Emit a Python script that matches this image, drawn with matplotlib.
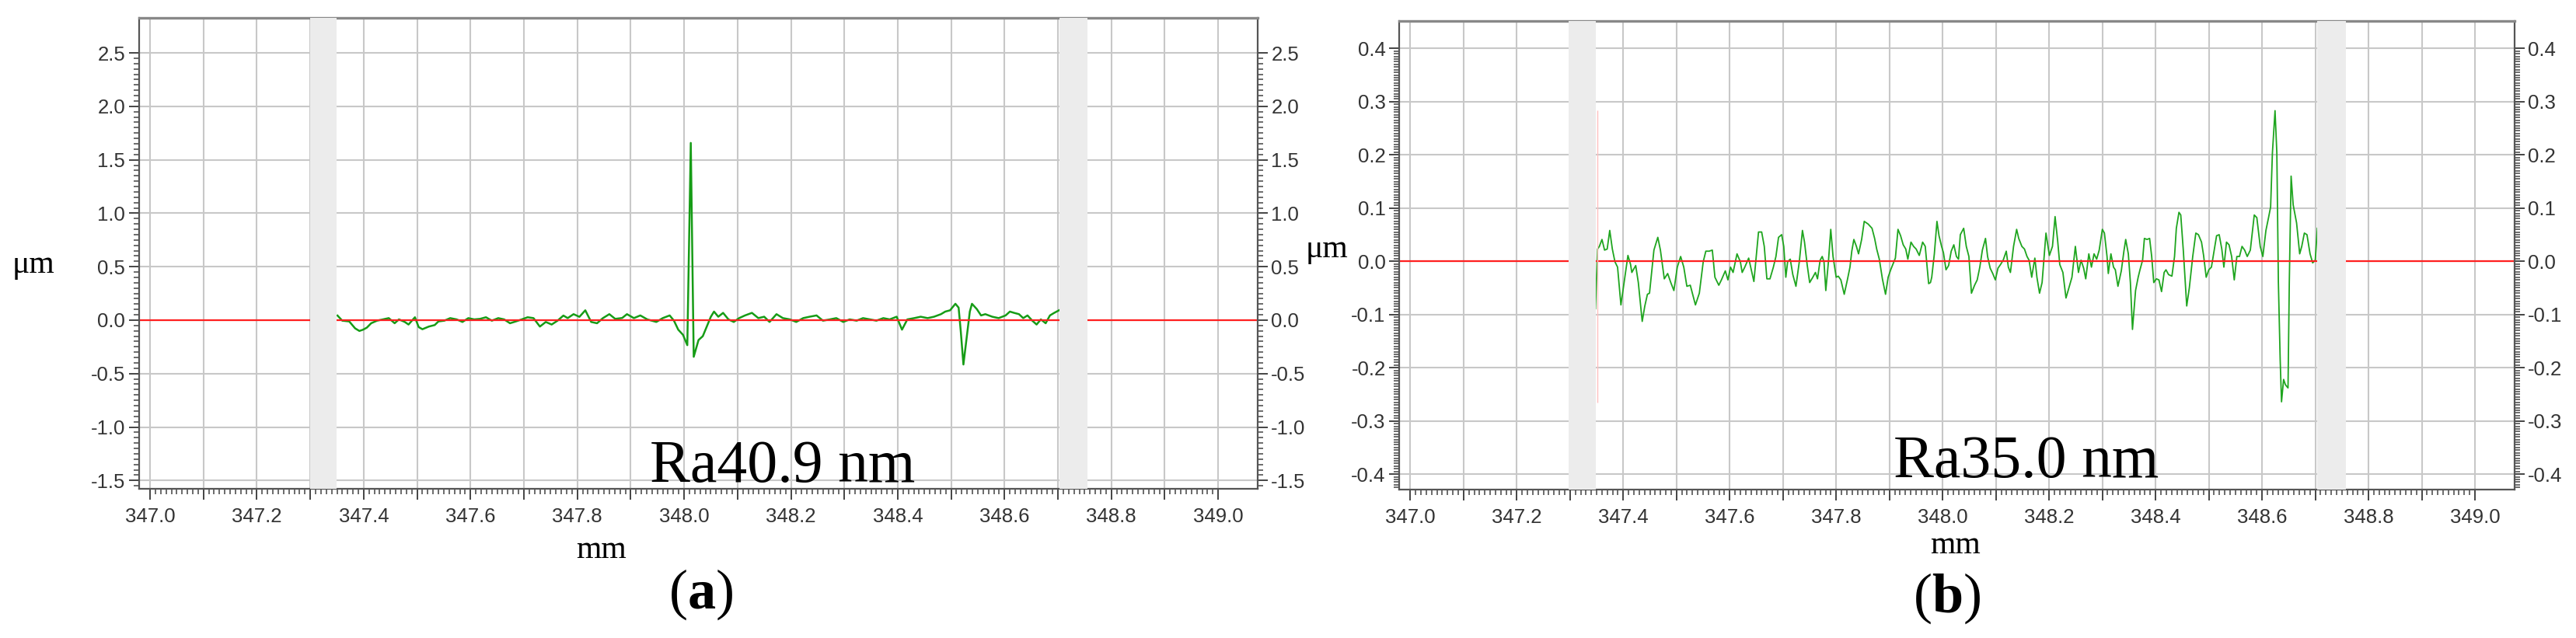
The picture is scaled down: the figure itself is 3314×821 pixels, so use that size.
import numpy as np
import matplotlib.pyplot as plt
from matplotlib.ticker import FixedLocator

plt.rcParams['font.family'] = 'Liberation Sans'
plt.rcParams['axes.unicode_minus'] = False
plt.rcParams['mathtext.fontset'] = 'custom'
plt.rcParams['mathtext.rm'] = 'Liberation Serif'
plt.rcParams['mathtext.bf'] = 'Liberation Serif:bold'

# ---- data (x in mm, height in um) ----
a_x = [347.351, 347.360, 347.373, 347.384, 347.392, 347.399, 347.406, 347.414, 347.425, 347.436,
       347.447, 347.458, 347.466, 347.477, 347.484, 347.496, 347.503, 347.510, 347.522, 347.533,
       347.540, 347.551, 347.562, 347.574, 347.585, 347.596, 347.607, 347.618, 347.629, 347.640,
       347.652, 347.663, 347.674, 347.685, 347.696, 347.707, 347.718, 347.730, 347.741, 347.752,
       347.763, 347.774, 347.782, 347.793, 347.804, 347.815, 347.826, 347.837, 347.848, 347.860,
       347.871, 347.884, 347.893, 347.906, 347.918, 347.931, 347.948, 347.960, 347.973, 347.981,
       347.989, 347.998, 348.006, 348.0125, 348.018, 348.027, 348.035, 348.042, 348.050, 348.056,
       348.064, 348.073, 348.083, 348.093, 348.103, 348.114, 348.127, 348.139, 348.150, 348.160,
       348.173, 348.185, 348.198, 348.210, 348.223, 348.235, 348.248, 348.260, 348.273, 348.285,
       348.298, 348.310, 348.323, 348.335, 348.348, 348.360, 348.373, 348.385, 348.398, 348.408,
       348.418, 348.431, 348.443, 348.456, 348.468, 348.481, 348.489, 348.498, 348.508, 348.514,
       348.518, 348.523, 348.528, 348.535, 348.539, 348.548, 348.556, 348.564, 348.577, 348.589,
       348.602, 348.610, 348.618, 348.627, 348.635, 348.643, 348.652, 348.660, 348.668, 348.677,
       348.685, 348.693, 348.702]
a_y = [0.043, -0.005, -0.012, -0.077, -0.101, -0.089, -0.070, -0.029, -0.005, 0.007,
       0.019, -0.029, 0.007, -0.017, -0.041, 0.027, -0.065, -0.085, -0.060, -0.046,
       -0.012, -0.005, 0.019, 0.007, -0.017, 0.019, 0.007, 0.012, 0.027, -0.005,
       0.019, 0.007, -0.029, -0.012, 0.007, 0.027, 0.019, -0.060, -0.017, -0.041,
       -0.005, 0.043, 0.019, 0.056, 0.031, 0.092, -0.017, -0.029, 0.019, 0.056,
       0.012, 0.020, 0.056, 0.019, 0.044, 0.007, -0.017, 0.019, 0.044, -0.005,
       -0.089, -0.138, -0.234, 1.658, -0.343, -0.186, -0.150, -0.065, 0.031, 0.080,
       0.032, 0.068, 0.007, -0.017, 0.019, 0.044, 0.068, 0.019, 0.032, -0.017,
       0.056, 0.019, 0.007, -0.017, 0.019, 0.032, 0.044, -0.005, 0.007, 0.019,
       -0.017, 0.007, -0.005, 0.019, 0.007, -0.005, 0.019, 0.007, 0.032, -0.089,
       0.007, 0.019, 0.032, 0.019, 0.032, 0.056, 0.080, 0.092, 0.153, 0.117,
       -0.101, -0.415, -0.210, 0.080, 0.153, 0.104, 0.044, 0.056, 0.032, 0.019,
       0.044, 0.080, 0.068, 0.056, 0.019, 0.044, -0.005, -0.041, 0.007, -0.029,
       0.044, 0.068, 0.092]

b_x = [347.3478, 347.3517, 347.3551, 347.3600, 347.3649, 347.3698, 347.3746, 347.3795, 347.3844, 347.3893,
       347.3956, 347.4015, 347.4088, 347.4137, 347.4161, 347.4234, 347.4283, 347.4356, 347.4405, 347.4454,
       347.4493, 347.4576, 347.4649, 347.4698, 347.4771, 347.4834, 347.4893, 347.4951, 347.5015, 347.5078,
       347.5137, 347.5195, 347.5259, 347.5356, 347.5429, 347.5502, 347.5551, 347.5615, 347.5673, 347.5722,
       347.5795, 347.5844, 347.5917, 347.5966, 347.6015, 347.6063, 347.6137, 347.6200, 347.6234, 347.6283,
       347.6356, 347.6405, 347.6454, 347.6541, 347.6600, 347.6649, 347.6698, 347.6756, 347.6820, 347.6868,
       347.6917, 347.6976, 347.7015, 347.7054, 347.7088, 347.7137, 347.7185, 347.7244, 347.7307, 347.7366,
       347.7405, 347.7454, 347.7502, 347.7561, 347.7610, 347.7649, 347.7698, 347.7737, 347.7771, 347.7805,
       347.7854, 347.7898, 347.7941, 347.8000, 347.8039, 347.8088, 347.8151, 347.8210, 347.8259, 347.8293,
       347.8332, 347.8380, 347.8420, 347.8478, 347.8527, 347.8600, 347.8673, 347.8722, 347.8761, 347.8810,
       347.8868, 347.8927, 347.8976, 347.9024, 347.9112, 347.9161, 347.9210, 347.9259, 347.9307, 347.9346,
       347.9405, 347.9454, 347.9502, 347.9561, 347.9624, 347.9673, 347.9737, 347.9771, 347.9795, 347.9844,
       347.9893, 347.9932, 347.9980, 348.0015, 348.0063, 348.0112, 348.0161, 348.0210, 348.0259, 348.0298,
       348.0332, 348.0395, 348.0444, 348.0493, 348.0541, 348.0600, 348.0649, 348.0698, 348.0746, 348.0805,
       348.0844, 348.0893, 348.0941, 348.0990, 348.1039, 348.1088, 348.1137, 348.1195, 348.1234, 348.1273,
       348.1332, 348.1390, 348.1429, 348.1488, 348.1537, 348.1585, 348.1624, 348.1673, 348.1732, 348.1771,
       348.1820, 348.1868, 348.1941, 348.2005, 348.2063, 348.2112, 348.2161, 348.2200, 348.2259, 348.2317,
       348.2380, 348.2429, 348.2493, 348.2551, 348.2600, 348.2649, 348.2688, 348.2746, 348.2795, 348.2844,
       348.2893, 348.2941, 348.3000, 348.3039, 348.3088, 348.3112, 348.3161, 348.3210, 348.3244, 348.3293,
       348.3356, 348.3405, 348.3439, 348.3488, 348.3527, 348.3566, 348.3624, 348.3673, 348.3707, 348.3756,
       348.3790, 348.3839, 348.3888, 348.3927, 348.3966, 348.4015, 348.4063, 348.4112, 348.4161, 348.4195,
       348.4244, 348.4307, 348.4356, 348.4390, 348.4439, 348.4473, 348.4522, 348.4585, 348.4634, 348.4698,
       348.4756, 348.4805, 348.4863, 348.4902, 348.4951, 348.5000, 348.5049, 348.5098, 348.5146, 348.5195,
       348.5244, 348.5283, 348.5332, 348.5380, 348.5429, 348.5478, 348.5527, 348.5576, 348.5624, 348.5673,
       348.5722, 348.5780, 348.5854, 348.5902, 348.5966, 348.6015, 348.6073, 348.6122, 348.6161, 348.6195,
       348.6244, 348.6278, 348.6307, 348.6341, 348.6366, 348.6405, 348.6439, 348.6488, 348.6512, 348.6546,
       348.6585, 348.6649, 348.6707, 348.6746, 348.6795, 348.6844, 348.6902, 348.6951, 348.7000, 348.7039]
b_y = [-0.089, 0.023, 0.028, 0.041, 0.021, 0.023, 0.058, 0.023, -0.001, -0.011,
       -0.082, -0.040, 0.011, -0.006, -0.021, -0.008, -0.040, -0.113, -0.084, -0.062,
       -0.060, 0.021, 0.045, 0.021, -0.033, -0.023, -0.040, -0.055, -0.011, 0.009,
       -0.011, -0.047, -0.045, -0.082, -0.060, -0.001, 0.019, 0.019, 0.021, -0.030,
       -0.045, -0.035, -0.018, -0.035, -0.011, -0.021, 0.014, -0.001, -0.021, -0.011,
       0.006, -0.016, -0.038, 0.055, 0.055, 0.028, -0.033, -0.033, -0.011, 0.009,
       0.045, 0.050, 0.028, -0.030, -0.001, 0.004, -0.025, -0.047, -0.001, 0.058,
       0.036, -0.006, -0.040, -0.030, -0.021, -0.033, 0.002, 0.009, -0.001, -0.055,
       -0.001, 0.060, 0.009, -0.030, -0.028, -0.035, -0.062, -0.035, -0.011, 0.019,
       0.041, 0.028, 0.014, 0.041, 0.075, 0.070, 0.062, 0.043, 0.023, 0.004,
       -0.033, -0.062, -0.030, -0.016, 0.006, 0.060, 0.048, 0.031, 0.023, 0.004,
       0.036, 0.028, 0.023, 0.011, 0.036, 0.028, -0.042, -0.040, -0.030, 0.014,
       0.075, 0.048, 0.028, 0.016, -0.016, -0.008, 0.019, 0.031, 0.009, 0.004,
       0.050, 0.062, 0.028, 0.009, -0.060, -0.045, -0.035, -0.011, 0.021, 0.043,
       0.009, -0.013, -0.023, -0.035, -0.013, -0.006, 0.002, 0.019, -0.011, -0.021,
       0.028, 0.060, 0.043, 0.028, 0.023, 0.009, 0.002, -0.030, 0.006, -0.030,
       -0.060, -0.040, 0.053, 0.011, 0.028, 0.084, 0.038, -0.006, -0.021, -0.069,
       -0.047, -0.030, 0.028, -0.021, 0.002, -0.013, -0.033, 0.014, -0.011, 0.014,
       0.004, 0.021, 0.060, 0.053, 0.009, -0.023, 0.014, -0.011, -0.016, -0.047,
       -0.018, 0.019, 0.041, 0.014, -0.040, -0.128, -0.055, -0.030, -0.016, 0.002,
       0.043, 0.041, 0.043, 0.009, -0.040, -0.033, -0.035, -0.057, -0.021, -0.016,
       -0.025, -0.028, 0.009, 0.062, 0.092, 0.087, 0.019, -0.084, -0.050, 0.009,
       0.053, 0.050, 0.036, 0.011, -0.030, -0.016, -0.011, 0.019, 0.048, 0.050,
       0.023, -0.011, 0.036, 0.031, 0.009, -0.035, 0.009, 0.009, 0.028, 0.021,
       0.009, 0.021, 0.087, 0.082, 0.028, 0.009, 0.058, 0.082, 0.102, 0.204,
       0.283, 0.204, -0.040, -0.186, -0.264, -0.222, -0.232, -0.238, -0.040, 0.160,
       0.106, 0.072, 0.014, 0.028, 0.053, 0.050, 0.014, -0.003, 0.002, 0.062]

bands_a = [(347.300, 347.349), (348.703, 348.755)]
bands_b = [(347.298, 347.348), (348.704, 348.757)]
ra_labels = ['Ra40.9 nm', 'Ra35.0 nm']
panel_labels = [r'$(\mathbf{a})$', r'$(\mathbf{b})$']

W, H = 3314, 821
fig = plt.figure(figsize=(W / 100, H / 100), dpi=100)


def fx(px):
    return px / W


def fy(py):
    return 1 - py / H


def lab(v):
    s = '%.1f' % v
    return '0.0' if s == '-0.0' else s


ax_a = fig.add_axes([178.6 / W, 1 - 629.3 / H, 1439.4 / W, 606.6 / H])
ax_b = fig.add_axes([1800 / W, 1 - 630 / H, 1434.7 / W, 603.3 / H])


def setup(ax, ylim, ymaj, ymin, bands):
    ax.set_xlim(346.979, 349.074)
    ax.set_ylim(*ylim)
    xmaj = np.round(np.arange(347.0, 349.0001, 0.1), 2)
    ax.xaxis.set_major_locator(FixedLocator(xmaj))
    ax.set_xticklabels([lab(v) if i % 2 == 0 else '' for i, v in enumerate(xmaj)])
    ax.xaxis.set_minor_locator(FixedLocator(np.arange(347.0, 349.0001, 0.01)))
    ax.yaxis.set_major_locator(FixedLocator(ymaj))
    ax.set_yticklabels([lab(v) for v in ymaj])
    ax.yaxis.set_minor_locator(FixedLocator(ymin))
    ax.tick_params(which='both', direction='out', colors='#444444', labelcolor='#333333',
                   left=True, right=True, labelleft=True, labelright=True)
    ax.tick_params(which='major', length=9.5, width=1.4, labelsize=18.5)
    ax.tick_params(axis='y', which='major', pad=3)
    ax.tick_params(axis='x', which='major', length=10, pad=7)
    ax.tick_params(which='minor', length=5, width=1.1)
    ax.grid(True, which='major', color='#c8c8c8', lw=1.5, zorder=0)
    ax.set_axisbelow(True)
    for side in ['left', 'right', 'bottom']:
        ax.spines[side].set_color('#555555')
        ax.spines[side].set_linewidth(1.6)
    ax.spines['top'].set_color('#888888')
    ax.spines['top'].set_linewidth(2.4)
    ax.axhline(0, color='#ff2020', lw=1.6, zorder=2.4)
    for x0, x1 in bands:
        ax.axvspan(x0, x1, color='#ececec', lw=0, zorder=3)


setup(ax_a, (-1.58, 2.83), np.arange(-1.5, 2.5001, 0.5), np.arange(-1.55, 2.5001, 0.05), bands_a)
setup(ax_b, (-0.429, 0.452), np.round(np.arange(-0.4, 0.4001, 0.1), 2),
      np.arange(-0.425, 0.4001, 0.005), bands_b)

ax_a.plot(a_x, a_y, color='#169c16', lw=1.8, zorder=2.2)
ax_b.plot(b_x, b_y, color='#1fa51f', lw=1.3, zorder=2.2)
ax_b.vlines(347.351, -0.265, 0.284, color='#ffc0c0', lw=1.0, zorder=4)

serif = 'Liberation Serif'
fig.text(fx(43), fy(341), 'μm', fontsize=30, family=serif, ha='center', va='center')
fig.text(fx(1707), fy(321), 'μm', fontsize=30, family=serif, ha='center', va='center')
fig.text(fx(773), fy(708), 'mm', fontsize=30, family=serif, ha='center', va='center')
fig.text(fx(2516), fy(702), 'mm', fontsize=30, family=serif, ha='center', va='center')
fig.text(fx(836), fy(620), ra_labels[0], fontsize=56, family=serif, ha='left', va='baseline')
fig.text(fx(2436), fy(614), ra_labels[1], fontsize=56, family=serif, ha='left', va='baseline')
fig.text(fx(902), fy(765), panel_labels[0], fontsize=52, ha='center', va='center')
fig.text(fx(2505), fy(770), panel_labels[1], fontsize=52, ha='center', va='center')

fig.savefig('out.png', dpi=100, facecolor='white')
